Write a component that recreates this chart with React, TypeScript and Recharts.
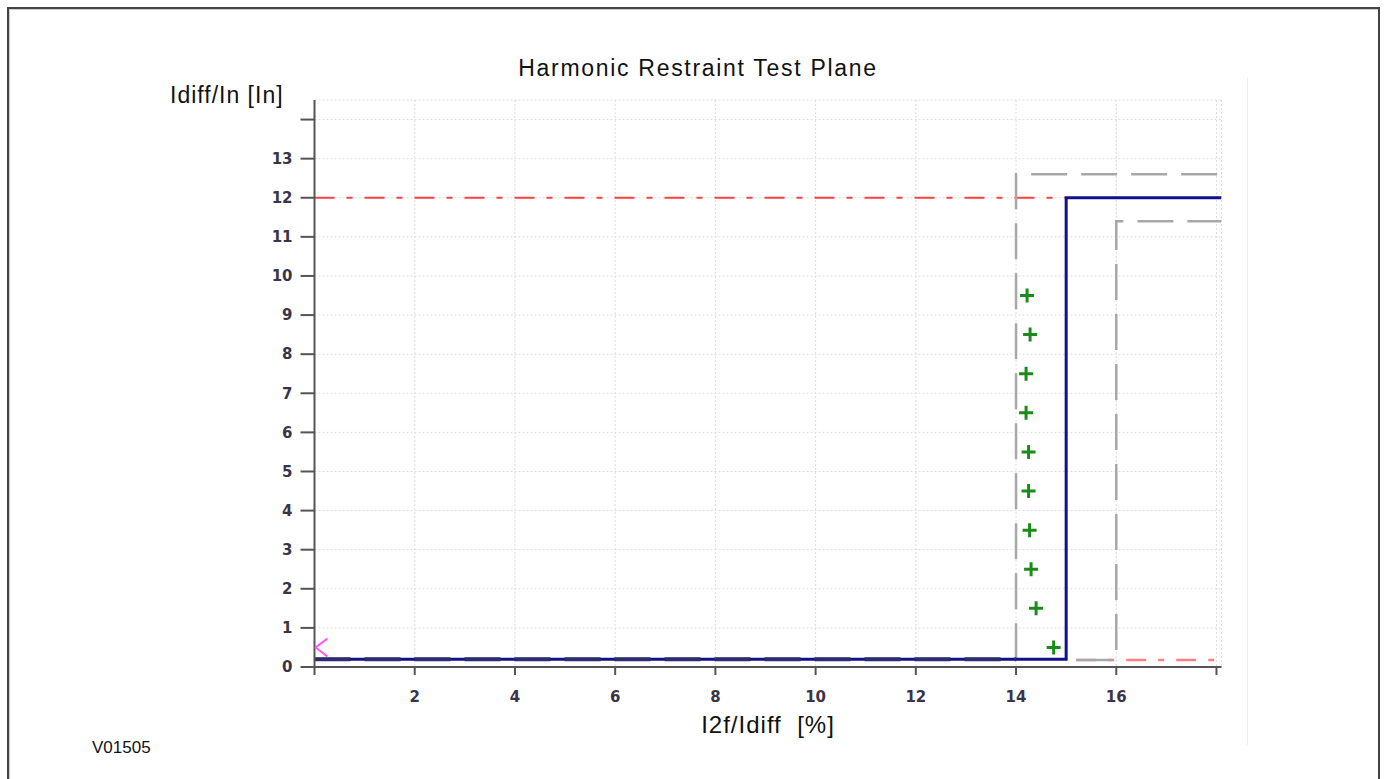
import React from "react";
import {
  ComposedChart,
  Line,
  Scatter,
  XAxis,
  YAxis,
  CartesianGrid,
} from "recharts";

const xTicks = [0, 2, 4, 6, 8, 10, 12, 14, 16, 18];
const yTicks = [0, 1, 2, 3, 4, 5, 6, 7, 8, 9, 10, 11, 12, 13, 14];

// blue trip characteristic
const characteristic = [
  { x: 0, y: 0.2 },
  { x: 15, y: 0.2 },
  { x: 15, y: 12 },
  { x: 18.1, y: 12 },
];

// tolerance band
const upperBase = [
  { x: 0, y: 0.2 },
  { x: 14, y: 0.2 },
];
const upperTolerance = [
  { x: 14, y: 0.2 },
  { x: 14, y: 12.6 },
  { x: 18.1, y: 12.6 },
];
const lowerTolerance = [
  { x: 15.2, y: 0.18 },
  { x: 16, y: 0.18 },
  { x: 16, y: 11.4 },
  { x: 18.1, y: 11.4 },
];

// limits
const maxLimit = [
  { x: 0, y: 12 },
  { x: 15, y: 12 },
];
const minLimit = [
  { x: 15.2, y: 0.18 },
  { x: 18.1, y: 0.18 },
];

const testPoints = [
  { x: 14.22, y: 9.5 },
  { x: 14.28, y: 8.5 },
  { x: 14.2, y: 7.5 },
  { x: 14.2, y: 6.5 },
  { x: 14.25, y: 5.5 },
  { x: 14.25, y: 4.5 },
  { x: 14.27, y: 3.5 },
  { x: 14.3, y: 2.5 },
  { x: 14.4, y: 1.5 },
  { x: 14.75, y: 0.5 },
];

const startMarker = [{ x: 0, y: 0.5 }];

const tickStyle = {
  fill: "#3a3448",
  fontSize: 15,
  fontWeight: "bold" as const,
  fontFamily: "DejaVu Sans, sans-serif",
};

function PlusShape(props: any) {
  const { cx, cy } = props;
  return (
    <g stroke="#1a8c1a" strokeWidth={3}>
      <line x1={cx - 7} y1={cy} x2={cx + 7} y2={cy} />
      <line x1={cx} y1={cy - 7} x2={cx} y2={cy + 7} />
    </g>
  );
}

function ChevronShape(props: any) {
  const { cx, cy } = props;
  return (
    <polyline
      points={`${cx + 13},${cy - 9} ${cx + 1},${cy} ${cx + 13},${cy + 9}`}
      fill="none"
      stroke="#ff55ff"
      strokeWidth={2}
    />
  );
}

const font = "Liberation Sans, Arial, sans-serif";

export default function App() {
  return (
    <div
      style={{
        position: "absolute",
        left: 0,
        top: 0,
        width: 1387,
        height: 779,
        background: "#fff",
        overflow: "hidden",
        fontFamily: font,
      }}
    >
      <div
        style={{
          position: "absolute",
          left: 7,
          top: 7,
          width: 1369,
          height: 800,
          border: "2px solid #444",
          boxShadow: "inset 1px 1px 0 #ccc",
        }}
      />
      <div
        style={{
          position: "absolute",
          left: 1247,
          top: 78,
          width: 1,
          height: 667,
          background: "#eeeeee",
        }}
      />
      <div
        style={{
          position: "absolute",
          left: 0,
          width: 1396,
          top: 55,
          textAlign: "center",
          fontSize: 23,
          letterSpacing: 1.7,
          color: "#111",
        }}
      >
        Harmonic Restraint Test Plane
      </div>
      <div
        style={{
          position: "absolute",
          left: 170,
          top: 82,
          fontSize: 23,
          letterSpacing: 1,
          color: "#111",
        }}
      >
        Idiff/In [In]
      </div>
      <div
        style={{
          position: "absolute",
          left: 0,
          width: 1536,
          top: 711,
          textAlign: "center",
          fontSize: 24,
          letterSpacing: 1,
          color: "#111",
          whiteSpace: "pre",
        }}
      >
        {"I2f/Idiff  [%]"}
      </div>
      <div
        style={{
          position: "absolute",
          left: 92,
          top: 738,
          fontSize: 17,
          fontFamily: "Liberation Sans Narrow, Arial Narrow, Liberation Sans, sans-serif",
          color: "#111",
        }}
      >
        V01505
      </div>
      <div style={{ position: "absolute", left: 0, top: 0 }}>
        <ComposedChart
          width={1387}
          height={779}
          margin={{ top: 100, right: 165.5, bottom: 82, left: 254.5 }}
        >
          <CartesianGrid stroke="#dcdcdc" strokeDasharray="2 2" />
          <XAxis
            type="number"
            dataKey="x"
            domain={[0, 18.1]}
            ticks={xTicks}
            allowDataOverflow
            height={30}
            tickSize={8}
            tickMargin={16}
            tick={tickStyle}
            tickFormatter={(v: number) => (v === 0 || v === 18 ? "" : String(v))}
            axisLine={{ stroke: "#555", strokeWidth: 2 }}
            tickLine={{ stroke: "#555", strokeWidth: 2 }}
          />
          <YAxis
            type="number"
            dataKey="y"
            domain={[0, 14.5]}
            ticks={yTicks}
            allowDataOverflow
            width={60}
            tickSize={14}
            tickMargin={8}
            tick={tickStyle}
            tickFormatter={(v: number) => (v === 14 ? "" : String(v))}
            axisLine={{ stroke: "#555", strokeWidth: 2 }}
            tickLine={{ stroke: "#555", strokeWidth: 2 }}
          />
          <Line
            data={maxLimit}
            dataKey="y"
            stroke="#ff4040"
            strokeWidth={2}
            strokeDasharray="20 12 6 12"
            dot={false}
            isAnimationActive={false}
          />
          <Line
            data={minLimit}
            dataKey="y"
            stroke="#ff8080"
            strokeWidth={2.5}
            strokeDasharray="20 12 6 12"
            dot={false}
            isAnimationActive={false}
          />
          <Line
            data={upperTolerance}
            dataKey="y"
            stroke="#a8a8a8"
            strokeWidth={2.5}
            strokeDasharray="36 14"
            dot={false}
            isAnimationActive={false}
          />
          <Line
            data={lowerTolerance}
            dataKey="y"
            stroke="#a8a8a8"
            strokeWidth={2.5}
            strokeDasharray="36 14"
            dot={false}
            isAnimationActive={false}
          />
          <Line
            data={characteristic}
            dataKey="y"
            stroke="#10108c"
            strokeWidth={3}
            dot={false}
            isAnimationActive={false}
          />
          <Line
            data={upperBase}
            dataKey="y"
            stroke="#2c2c6e"
            strokeWidth={4}
            strokeDasharray="36 14"
            dot={false}
            isAnimationActive={false}
          />
          <Scatter
            data={testPoints}
            dataKey="y"
            shape={<PlusShape />}
            isAnimationActive={false}
          />
          <Scatter
            data={startMarker}
            dataKey="y"
            shape={<ChevronShape />}
            isAnimationActive={false}
          />
        </ComposedChart>
      </div>
    </div>
  );
}
